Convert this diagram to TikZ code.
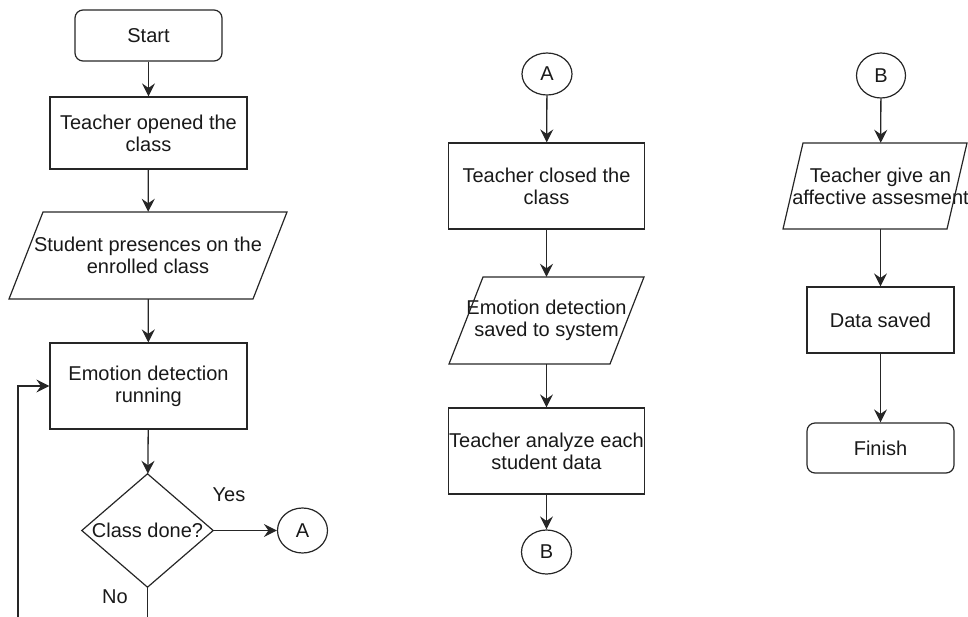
\documentclass[tikz,border=0pt]{standalone}
\usepackage{fontspec}
\setmainfont{Liberation Sans}
\usetikzlibrary{arrows.meta,shapes.geometric}
\newcommand{\drawpara}[5]{% node, half body width, half height, half slant, x offset
  \draw[shapeline] ([shift={(#5-#2+#4,-#3)}]#1.center) -- ([shift={(#5+#2+#4,-#3)}]#1.center)
    -- ([shift={(#5+#2-#4,#3)}]#1.center) -- ([shift={(#5-#2-#4,#3)}]#1.center) -- cycle;}
\tikzset{
  shapeline/.style={line width=1.2pt, draw=black!85, line join=miter},
  base/.style={font=\fontsize{20}{22}\selectfont, align=center, inner sep=0pt, text=black!90},
  proc/.style={base, shapeline, draw, rectangle},
  term/.style={proc, rounded corners=8pt},
  conn/.style={base, shapeline, draw, ellipse},
  para/.style={base, rectangle, draw=none},
  lbl/.style={base},
  arr/.style={line width=1.3pt, draw=black!85, -{Stealth[length=13pt,width=13pt,inset=4.5pt]}},
}
\begin{document}
\begin{tikzpicture}[x=1pt,y=-1pt]
\useasboundingbox (0,0) rectangle (968,616);
\clip (0,0) rectangle (968,616);
% left column
\node[term, minimum width=147, minimum height=51] (start) at (148.5,35.5) {Start};
\node[proc, minimum width=197, minimum height=72] (open) at (148.5,133) {Teacher opened the\\class};
\node[para, minimum width=244, minimum height=87] (pres) at (148,255.5) {Student presences on the\\enrolled class};
\drawpara{pres}{122}{43.5}{17}{0}
\node[proc, minimum width=197, minimum height=86] (emo) at (148.5,386) {Emotion detection\\running};
\node[para, minimum width=131, minimum height=113] (dec) at (147.5,530.5) {Class done?};
\draw[shapeline] (dec.north) -- (dec.east) -- (dec.south) -- (dec.west) -- cycle;
\node[conn, minimum width=50, minimum height=45] (a1) at (302.5,530.5) {A};
\node[lbl] (yes) at (229,495) {Yes};
\node[lbl] (no) at (115,597) {No};
\coordinate (lb) at (18,650);
\draw[arr] (start) -- (open);
\draw[arr] (open) -- (pres);
\draw[arr] (pres) -- (emo);
\draw[arr] (emo) -- (dec);
\draw[arr] (dec.east) -- (a1.west);
\draw[arr] (dec.south) |- (lb) |- (emo.west);
% middle column
\node[conn, minimum width=50, minimum height=42] (a2) at (547,74) {A};
\node[proc, minimum width=196, minimum height=86] (close) at (546.5,186) {Teacher closed the\\class};
\node[para, minimum width=161, minimum height=87] (save) at (546.5,320.5) {Emotion detection\\saved to system};
\drawpara{save}{80.5}{43.5}{17}{0}
\node[proc, minimum width=196, minimum height=86] (anal) at (546.5,451) {Teacher analyze each\\student data};
\node[conn, minimum width=50, minimum height=44] (b1) at (546.5,552) {B};
\draw[arr] (a2) -- (close);
\draw[arr] (close) -- (save);
\draw[arr] (save) -- (anal);
\draw[arr] (anal) -- (b1);
% right column
\node[conn, minimum width=49, minimum height=45] (b2) at (881,75.5) {B};
\node[para, minimum width=164, minimum height=86] (assess) at (880.5,186) {Teacher give an\\affective assesment};
\drawpara{assess}{82}{43}{10}{-5.5}
\node[proc, minimum width=147, minimum height=66] (data) at (880.5,320) {Data saved};
\node[term, minimum width=147, minimum height=50] (fin) at (880.5,448) {Finish};
\draw[arr] (b2) -- (assess);
\draw[arr] (assess) -- (data);
\draw[arr] (data) -- (fin);
\end{tikzpicture}
\end{document}
